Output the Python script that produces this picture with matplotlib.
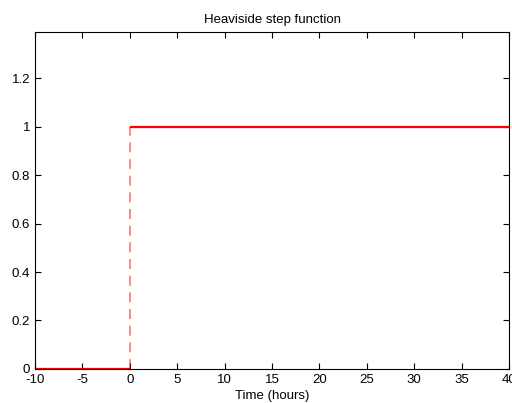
import numpy as np
import matplotlib
matplotlib.use("Agg")
import matplotlib.pyplot as plt

# step function pieces
t_before = [-10, 0]
h_before = [0, 0]
t_after = [0, 40]
h_after = [1, 1]
t_jump = [0, 0]
h_jump = [0, 1]

x_ticks = [-10, -5, 0, 5, 10, 15, 20, 25, 30, 35, 40]
y_ticks = [0, 0.2, 0.4, 0.6, 0.8, 1, 1.2]
y_labels = ["0", "0.2", "0.4", "0.6", "0.8", "1", "1.2"]

plt.rcParams['font.family'] = ['Liberation Sans', 'DejaVu Sans']

fig = plt.figure(figsize=(5.12, 4.03), dpi=100)
ax = fig.add_axes([0.0684, 0.0844, 0.926, 0.8362])

ax.plot(t_before, h_before, color="red", lw=1.6, solid_capstyle="butt")
ax.plot(t_after, h_after, color="red", lw=1.6, solid_capstyle="butt")
ax.plot(t_jump, h_jump, color="red", lw=1.2, ls=(0, (6, 4)), alpha=0.55)

ax.set_xlim(-10, 40)
ax.set_ylim(0, 1.39)
ax.set_xticks(x_ticks)
ax.set_xticklabels([str(v) for v in x_ticks])
ax.set_yticks(y_ticks)
ax.set_yticklabels(y_labels)
ax.tick_params(direction="in", length=4, width=0.8, labelsize=9.5, top=True, right=True, pad=3.5)
for s in ax.spines.values():
    s.set_linewidth(0.8)

ax.set_xlabel("Time (hours)", fontsize=9.5, labelpad=3)
ax.set_title("Heaviside step function", fontsize=9.5, pad=6.5)

fig.savefig("out.png", dpi=100)
